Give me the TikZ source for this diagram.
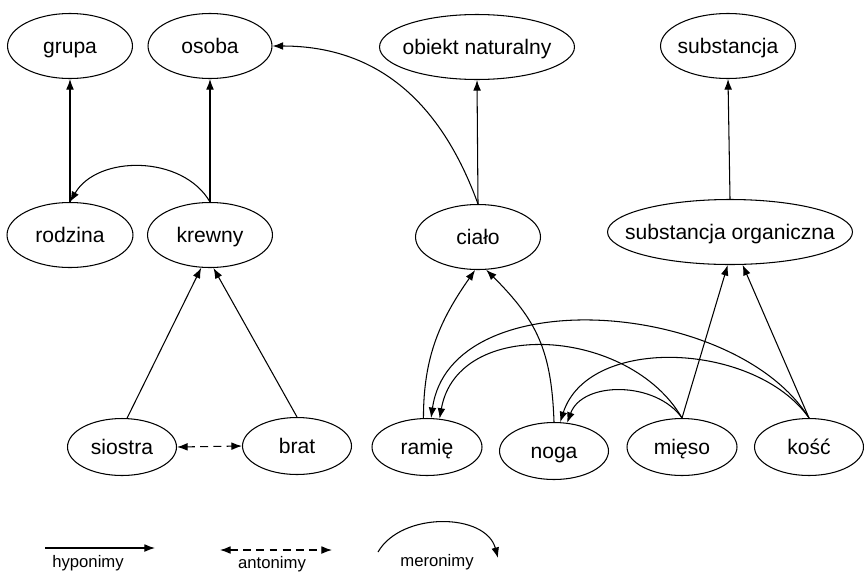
\documentclass[tikz,border=0pt]{standalone}
\usepackage{fontspec}
\setmainfont{Liberation Sans}
\usetikzlibrary{shapes.geometric, arrows.meta}
\newcommand{\ovaltext}[1]{\makebox[0pt]{#1}}
\tikzstyle{concept} = [ellipse, draw=black, line width=0.6pt, minimum width=2.5cm, minimum height=1.3cm, inner sep=0pt, text height=9pt, text depth=0pt, font=\fontsize{12}{14}\selectfont]
\tikzstyle{leaf} = [concept, minimum width=2.18cm, minimum height=1.14cm]
\tikzstyle{hypo} = [line width=0.6pt,-{Latex[length=6pt,width=4.4pt]}]
\tikzstyle{anto} = [line width=0.6pt,{Latex[length=6pt,width=4.4pt]}-{Latex[length=6pt,width=4.4pt]},dash pattern=on 4.5pt off 3pt]
\tikzstyle{mero} = [line width=0.6pt,-{Latex[length=6pt,width=4.4pt]}]
\tikzstyle{caption} = [font=\fontsize{9.5}{11}\selectfont]

\begin{document}
\begin{tikzpicture}[x=0.02cm, y=-0.02cm]
	\useasboundingbox (0,0) rectangle (864,575);
	% top row
	\node (grupa) [concept] at (70,46) {\ovaltext{grupa}};
	\node (osoba) [concept, minimum width=2.48cm] at (210,46) {\ovaltext{osoba}};
	\node (obiekt) [concept, minimum width=3.9cm] at (477,47) {\ovaltext{obiekt naturalny}};
	\node (subst) [concept, minimum width=2.7cm] at (728,46) {\ovaltext{substancja}};
	% middle row
	\node (rodzina) [concept, minimum width=2.52cm] at (70,235) {\ovaltext{rodzina}};
	\node (krewny) [concept] at (210,235) {\ovaltext{krewny}};
	\node (cialo) [concept] at (478,237) {\ovaltext{ciało}};
	\node (suborg) [concept, minimum width=4.9cm] at (730,232) {\ovaltext{substancja organiczna}};
	% bottom row
	\node (siostra) [leaf] at (122,447) {\ovaltext{siostra}};
	\node (brat) [leaf] at (297,446) {\ovaltext{brat}};
	\node (ramie) [leaf, minimum width=2.2cm] at (427,447) {\ovaltext{ramię}};
	\node (noga) [leaf] at (554,451) {\ovaltext{noga}};
	\node (mieso) [leaf, minimum width=2.2cm] at (682,447) {\ovaltext{mięso}};
	\node (kosc) [leaf] at (809,447) {\ovaltext{kość}};

	% hyponymy
		\draw [hypo] (rodzina.north) -- (grupa.south);
		\draw [hypo] (krewny.north) -- (osoba.south);
		\draw [hypo] (cialo.north) -- (obiekt.south);
		\draw [hypo] (suborg.north) -- (subst.south);
		\draw [hypo] (siostra.80) -- (krewny.255);
		\draw [hypo] (brat.north) -- (krewny.276);
		\draw [hypo] (mieso.north) -- (suborg.266);
		\draw [hypo] (kosc.north) -- (suborg.291);
	% antonymy
		\draw [anto] (siostra.east) -- (brat.west);
	% meronymy
		\draw [mero] (krewny.north) to[bend right=60] (rodzina.north);
		\draw [mero] (cialo.north) to[out=110, in=0, looseness=1.05] (osoba.east);
		\draw [mero] (ramie.97) to[out=90, in=235] (cialo.265);
		\draw [mero] (noga.north) to[out=92, in=-45, looseness=1.1] (cialo.284);
		\draw [mero] (mieso.north) to[out=120, in=80, looseness=1.1] (ramie.66);
		\draw [mero] (kosc.north) to[out=122, in=82, looseness=0.95] (ramie.82);
		\draw [mero] (mieso.north) to[out=125, in=70] (noga.65);
		\draw [mero] (kosc.north) to[out=125, in=72, looseness=0.95] (noga.78);

	% legend
	\coordinate (hypA) at (45,548);
	\coordinate (hypB) at (155,548);
	\node (hypL) [caption] at (88,563) {hyponimy};
		\draw [hypo] (hypA) -- (hypB);
	\coordinate (antA) at (220,550);
	\coordinate (antB) at (332,550);
	\node (antL) [caption] at (272,564) {antonimy};
		\draw [anto] (antA) -- (antB);
	\coordinate (merA) at (378,552);
	\coordinate (merB) at (498,558);
	\node (merL) [caption] at (437,562) {meronimy};
		\draw [mero] (merA) to[out=60, in=105] (merB);
\end{tikzpicture}
\end{document}
